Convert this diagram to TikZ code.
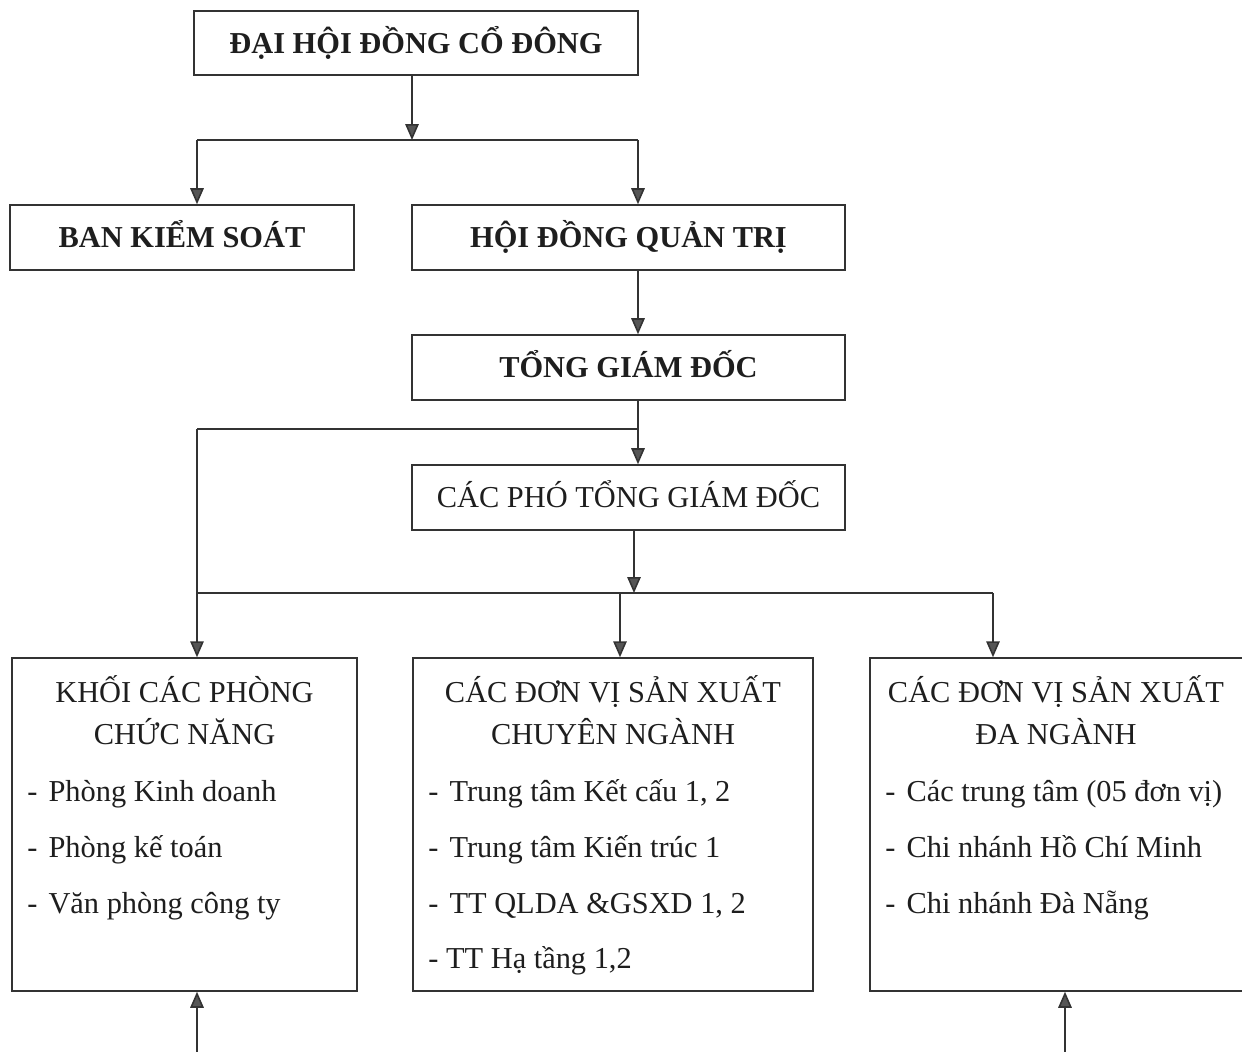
\documentclass[tikz,border=0pt]{standalone}
\usepackage{fontspec}
\setmainfont{Liberation Serif}
\usepackage{xcolor}
\definecolor{inkblack}{HTML}{1E1E1E}
\definecolor{linegray}{HTML}{333333}
\definecolor{tipgray}{HTML}{555555}
\usetikzlibrary{arrows.meta}

\begin{document}
\begin{tikzpicture}[x=0.02cm, y=-0.02cm,
    font=\fontsize{17.3pt}{20pt}\selectfont, text=inkblack,
    box/.style={draw=linegray, line width=0.9pt, inner sep=0pt,
      text height=1.15em, text depth=0pt},
    hbox/.style={box, font=\fontsize{17.3pt}{20pt}\selectfont\bfseries},
    conn/.style={draw=linegray, line width=0.9pt},
    arr/.style={conn, -{Triangle[width=0.27cm, length=0.32cm, fill=tipgray]}},
    head/.style={anchor=base, inner sep=0pt},
    item/.style={anchor=base west, inner sep=0pt}
]

  \useasboundingbox (0,0) rectangle (1242,1052);
  \clip (0,0) rectangle (1242,1052);

  % top levels
  \node[hbox, minimum width=8.88cm, minimum height=1.28cm] (dhcd) at (416,43) {ĐẠI HỘI ĐỒNG CỔ ĐÔNG};
  \node[hbox, minimum width=6.88cm, minimum height=1.3cm] (bks) at (182,237.5) {BAN KIỂM SOÁT};
  \node[hbox, minimum width=8.66cm, minimum height=1.3cm] (hdqt) at (628.5,237.5) {HỘI ĐỒNG QUẢN TRỊ};
  \node[hbox, minimum width=8.66cm, minimum height=1.3cm] (tgd) at (628.5,367.5) {TỔNG GIÁM ĐỐC};
  \node[box, minimum width=8.66cm, minimum height=1.3cm] (ptgd) at (628.5,497.5) {CÁC PHÓ TỔNG GIÁM ĐỐC};

  % bottom blocks
  \node[box, minimum width=6.9cm, minimum height=6.66cm] (khoi) at (184.5,824.5) {};
  \node[box, minimum width=8cm, minimum height=6.66cm] (cmn) at (613,824.5) {};
  \node[box, minimum width=7.52cm, minimum height=6.66cm] (dn) at (1058,824.5) {};

  % functional departments
  \node[head] (khoi1) at (184.5,702) {KHỐI CÁC PHÒNG};
  \node[head] (khoi2) at (184.5,744) {CHỨC NĂNG};
  \node[item] (khoi3) at (27,801) {-\hspace{6.3pt}Phòng Kinh doanh};
  \node[item] (khoi4) at (27,857) {-\hspace{6.3pt}Phòng kế toán};
  \node[item] (khoi5) at (27,913) {-\hspace{6.3pt}Văn phòng công ty};

  % specialised units
  \node[head] (cmn1) at (613,702) {CÁC ĐƠN VỊ SẢN XUẤT};
  \node[head] (cmn2) at (613,744) {CHUYÊN NGÀNH};
  \node[item] (cmn3) at (428,801) {-\hspace{6.3pt}Trung tâm Kết cấu 1, 2};
  \node[item] (cmn4) at (428,857) {-\hspace{6.3pt}Trung tâm Kiến trúc 1};
  \node[item] (cmn5) at (428,913) {-\hspace{6.3pt}TT QLDA \&GSXD 1, 2};
  \node[item] (cmn6) at (428,968) {- TT Hạ tầng 1,2};

  % multi-sector units
  \node[head] (dn1) at (1056,702) {CÁC ĐƠN VỊ SẢN XUẤT};
  \node[head] (dn2) at (1056,744) {ĐA NGÀNH};
  \node[item] (dn3) at (885,801) {-\hspace{6.3pt}Các trung tâm (05 đơn vị)};
  \node[item] (dn4) at (885,857) {-\hspace{6.3pt}Chi nhánh Hồ Chí Minh};
  \node[item] (dn5) at (885,913) {-\hspace{6.3pt}Chi nhánh Đà Nẵng};

  % junctions
  \coordinate (j1) at (412,140);
  \coordinate (j1l) at (197,140);
  \coordinate (j1r) at (638,140);
  \coordinate (j2) at (638,429);
  \coordinate (j2l) at (197,429);
  \coordinate (j3) at (634,593);
  \coordinate (j3m) at (620,593);
  \coordinate (j3r) at (993,593);
  \coordinate (b1) at (197,1060);
  \coordinate (b2) at (1065,1060);

  % connectors
  \draw[arr] (dhcd.south -| j1) -- (j1);
  \draw[conn] (j1l) -- (j1r);
  \draw[arr] (j1l) -- (j1l |- bks.north);
  \draw[arr] (j1r) -- (j1r |- hdqt.north);
  \draw[arr] (hdqt.south -| j1r) -- (j1r |- tgd.north);
  \draw[arr] (tgd.south -| j2) -- (j2 |- ptgd.north);
  \draw[conn] (j2) -- (j2l);
  \draw[arr] (j2l) -- (j2l |- khoi.north);
  \draw[arr] (ptgd.south -| j3) -- (j3);
  \draw[conn] (j2l |- j3) -- (j3r);
  \draw[arr] (j3m) -- (j3m |- cmn.north);
  \draw[arr] (j3r) -- (j3r |- dn.north);
  \draw[arr] (b1) -- (b1 |- khoi.south);
  \draw[arr] (b2) -- (b2 |- dn.south);

\end{tikzpicture}
\end{document}
